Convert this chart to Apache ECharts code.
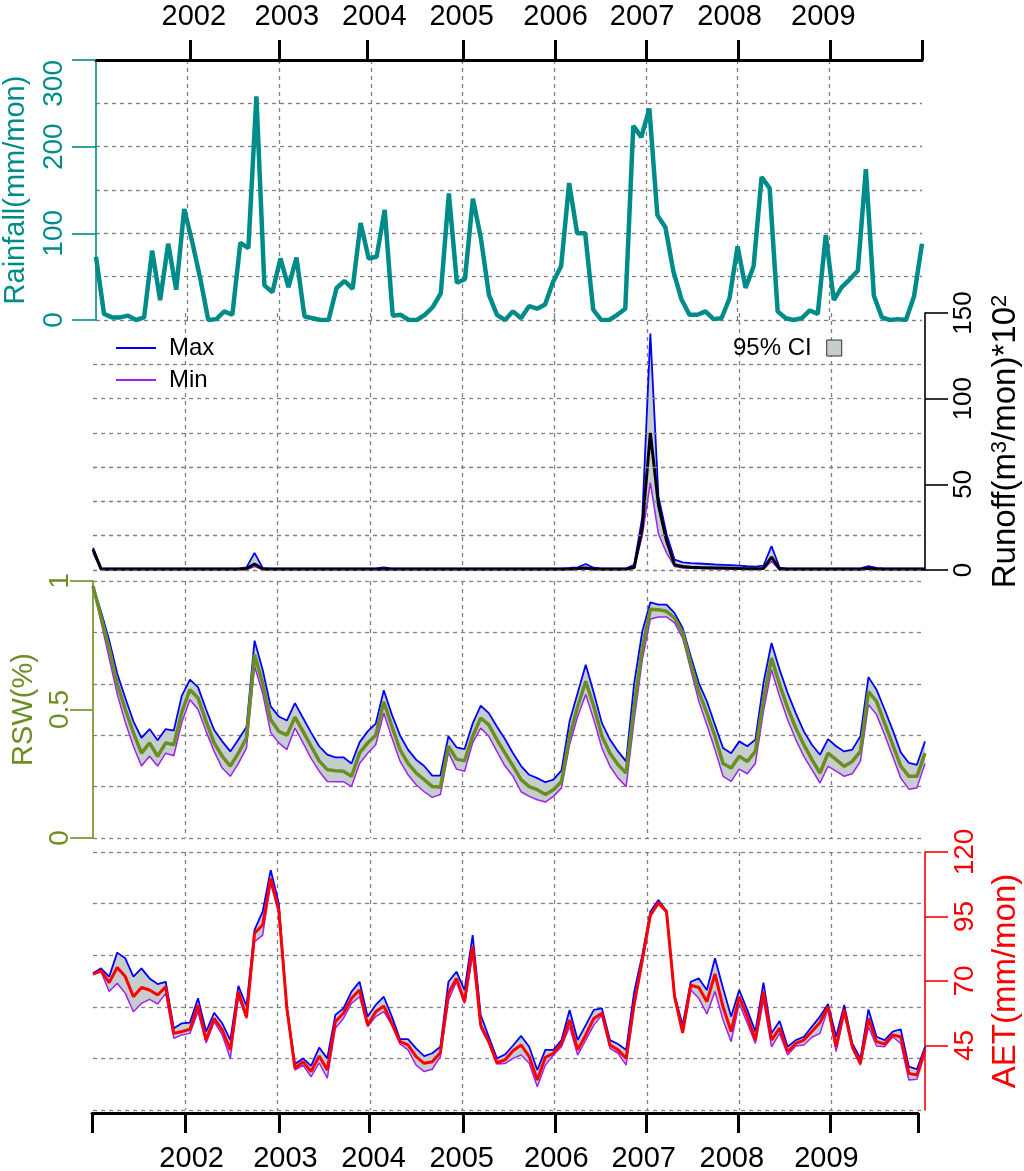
<!DOCTYPE html>
<html><head><meta charset="utf-8">
<script src="https://cdn.jsdelivr.net/npm/echarts@6/dist/echarts.min.js"></script>
<style>html,body{margin:0;padding:0;background:#fff}#c{width:1024px;height:1171px}</style>
</head><body><div id="c"></div>
<script>
// ---- data (monthly index 0..103) ----
const rainfall = [
 73,7,3,3,5,0,3,80,23,88,
 35,128,90,48,0,1,10,6,89,83,
 258,40,32,71,38,72,4,2,0,0,
 37,45,36,112,71,73,127,5,6,0,
 0,6,15,31,146,43,47,140,94,29,
 6,0,10,2,16,13,18,44,62,158,
 100,100,12,0,0,6,13,224,211,244,
 121,107,56,24,6,6,10,1,2,25,
 85,37,62,165,152,10,2,0,2,11,
 7,98,23,38,47,57,174,28,3,0,
 1,0,27,88];
const runoffMax = [
 13,1,1,1,1,1,1,1,1,1,
 1,1,1,1,1,1,1,1,1,1.5,
 10,1.2,1,1,1,1,1,1,1,1,
 1,1,1,1,1,1,1.5,1,1,1,
 1,1,1,1,1,1,1,1,1,1,
 1,1,1,1,1,1,1,1,1,1.2,
 1.5,3.5,1.3,1,1,1,1,3,31,138,
 43,21,6,4.5,4,3.8,3.5,3.2,3,2.8,
 2.5,2.2,2,2.5,14,1.3,1,1,1,1,
 1,1,1,1,1,1,2.2,1.2,1,1,
 1,1,1,1];
const runoffMean = [
 12,0.5,0.5,0.5,0.5,0.5,0.5,0.5,0.5,0.5,
 0.5,0.5,0.5,0.5,0.5,0.5,0.5,0.5,0.5,0.8,
 3.5,0.6,0.5,0.5,0.5,0.5,0.5,0.5,0.5,0.5,
 0.5,0.5,0.5,0.5,0.5,0.5,0.6,0.5,0.5,0.5,
 0.5,0.5,0.5,0.5,0.5,0.5,0.5,0.5,0.5,0.5,
 0.5,0.5,0.5,0.5,0.5,0.5,0.5,0.5,0.5,0.6,
 0.8,1.2,0.6,0.5,0.5,0.5,0.5,1.5,25,80,
 38,17,3,2,1.6,1.4,1.3,1.2,1.1,1,
 0.9,0.8,0.7,0.9,7.5,0.5,0.5,0.5,0.5,0.5,
 0.5,0.5,0.5,0.5,0.5,0.5,1,0.6,0.5,0.5,
 0.5,0.5,0.5,0.5];
const runoffMin = [
 10,0.2,0.2,0.2,0.2,0.2,0.2,0.2,0.2,0.2,
 0.2,0.2,0.2,0.2,0.2,0.2,0.2,0.2,0.2,0.3,
 2,0.2,0.2,0.2,0.2,0.2,0.2,0.2,0.2,0.2,
 0.2,0.2,0.2,0.2,0.2,0.2,0.2,0.2,0.2,0.2,
 0.2,0.2,0.2,0.2,0.2,0.2,0.2,0.2,0.2,0.2,
 0.2,0.2,0.2,0.2,0.2,0.2,0.2,0.2,0.2,0.2,
 0.3,0.6,0.2,0.2,0.2,0.2,0.2,1,20,51,
 21,10,2,1.2,1,0.9,0.8,0.7,0.6,0.5,
 0.4,0.4,0.3,0.5,5,0.2,0.2,0.2,0.2,0.2,
 0.2,0.2,0.2,0.2,0.2,0.2,0.5,0.2,0.2,0.2,
 0.2,0.2,0.2,0.2];
const rswMax = [
 0.98,0.88,0.77,0.64,0.545,0.454,0.39,0.424,0.38,0.424,
 0.418,0.554,0.616,0.587,0.50,0.42,0.376,0.337,0.383,0.432,
 0.768,0.655,0.512,0.473,0.457,0.525,0.467,0.41,0.357,0.324,
 0.314,0.314,0.29,0.372,0.415,0.445,0.575,0.48,0.40,0.344,
 0.305,0.28,0.243,0.243,0.396,0.353,0.346,0.445,0.515,0.486,
 0.434,0.385,0.33,0.28,0.246,0.233,0.217,0.227,0.263,0.454,
 0.564,0.674,0.564,0.447,0.383,0.337,0.298,0.603,0.804,0.917,
 0.908,0.908,0.875,0.817,0.707,0.603,0.532,0.44,0.35,0.33,
 0.376,0.357,0.383,0.603,0.759,0.655,0.564,0.486,0.415,0.363,
 0.324,0.385,0.357,0.337,0.344,0.396,0.626,0.577,0.50,0.42,
 0.333,0.292,0.285,0.376];
const rswMean = [
 0.98,0.86,0.74,0.60,0.50,0.41,0.33,0.37,0.318,0.37,
 0.363,0.49,0.577,0.545,0.454,0.37,0.318,0.28,0.33,0.39,
 0.713,0.603,0.46,0.415,0.40,0.47,0.415,0.357,0.30,0.266,
 0.262,0.26,0.24,0.33,0.37,0.40,0.53,0.435,0.344,0.29,
 0.253,0.227,0.20,0.198,0.357,0.307,0.30,0.396,0.467,0.44,
 0.383,0.33,0.28,0.227,0.20,0.188,0.169,0.188,0.22,0.396,
 0.512,0.61,0.512,0.396,0.33,0.285,0.253,0.512,0.74,0.89,
 0.888,0.882,0.856,0.80,0.68,0.57,0.486,0.396,0.29,0.272,
 0.318,0.298,0.337,0.538,0.70,0.597,0.506,0.428,0.363,0.305,
 0.253,0.33,0.305,0.279,0.298,0.337,0.57,0.532,0.447,0.363,
 0.28,0.24,0.24,0.33];
const rswMin = [
 0.98,0.84,0.70,0.56,0.45,0.357,0.28,0.318,0.28,0.33,
 0.32,0.45,0.538,0.50,0.415,0.337,0.272,0.24,0.29,0.35,
 0.668,0.564,0.41,0.37,0.344,0.428,0.37,0.31,0.26,0.22,
 0.219,0.219,0.20,0.29,0.33,0.363,0.486,0.39,0.30,0.246,
 0.207,0.18,0.158,0.169,0.333,0.268,0.26,0.37,0.428,0.396,
 0.337,0.28,0.24,0.18,0.162,0.149,0.14,0.162,0.195,0.363,
 0.473,0.558,0.46,0.35,0.279,0.233,0.20,0.46,0.694,0.852,
 0.86,0.86,0.837,0.778,0.655,0.532,0.44,0.344,0.24,0.22,
 0.268,0.25,0.29,0.493,0.655,0.551,0.46,0.383,0.318,0.266,
 0.214,0.279,0.26,0.24,0.25,0.298,0.519,0.48,0.402,0.318,
 0.233,0.19,0.195,0.29];
const aetMax = [
 73,74.9,71.7,81,78.8,71.7,74.9,71,68.8,69.7,
 51.7,53.6,53.9,63.3,50.4,57.7,53.6,47.1,68.1,60.3,
 89.8,96.9,113,100.1,60,37.8,40,37.1,44.2,40,
 56.8,59.4,65.9,69.7,56.2,60.7,63.9,56.2,47.5,47.5,
 43.9,40.9,42,44.5,69.7,73.6,66.5,87.8,56.8,48.4,
 40,41.5,45,48.7,44.5,35.5,43.3,43.3,47.1,58.8,
 47.1,52.9,58.8,59.4,47.1,45.6,43.3,65.9,80.1,96.9,
 101.4,97.1,64.6,52.9,69.7,71,66.5,78.8,67.2,56.2,
 66.5,58.8,50.4,69.4,49.7,54.5,44.5,47.1,48.4,52.3,
 56.2,61.1,48.4,60.7,45.8,40,59,48.4,47.1,50.4,
 51.3,36.8,35.8,44.5];
const aetMean = [
 72.8,74,69.4,75.2,71.7,63.9,67.5,66.5,64.6,67.8,
 49.7,50.4,51.3,60.7,47.1,55.5,51,43.3,65.9,55.9,
 88.5,91.7,109.8,97.5,59.4,36.2,38.7,34.9,40.9,35.5,
 54.2,57.5,63.3,66.5,52.9,58.1,60.3,53.6,46.5,45.2,
 40.7,38.1,38.7,42.2,65.2,71,62,83.6,52.9,46.5,
 38.3,39.4,43,45.2,40.7,31.6,40.4,42,45.8,54.9,
 43.3,49.1,55.5,57.5,45.2,43.3,40,61.3,78.1,95.6,
 100.4,96.9,63.9,50,68.4,67.5,62,72.7,60,50.4,
 63.9,56.2,47.1,65.9,47.1,51.7,42.6,45.8,47.1,50.4,
 53.9,60,44.5,58.8,44.5,38.1,55.5,46.5,45.6,49.1,
 48.4,34.2,33.6,43.3];
const aetMin = [
 72.4,73.6,65.9,69.1,65.2,58.1,61.3,62.9,61.1,65.2,
 47.8,49.1,49.7,58.1,46,54.2,49.1,40,63.9,55.5,
 85.2,87.8,107.9,96.2,58.8,35.5,37.4,32.9,38.3,32.3,
 51.7,55.5,61.3,63.9,52.3,56.2,58.1,52.9,45.6,43.3,
 37.4,34.9,35.8,40.7,62.6,69.7,61.3,80,51.7,45.8,
 37.8,38,40,41.3,38.1,29,37.4,41.3,44.5,52.3,
 41.3,47.1,52.9,56.8,43.9,42,37.4,60,76.8,94.9,
 99.8,96.5,63.3,49.7,66.5,63.3,57.2,65.9,54.9,46.5,
 61.3,53.6,45.8,62.6,44.5,49.7,41.3,44.8,45.2,48.2,
 49.7,59.4,42.6,57.5,43.9,37.4,52.3,44.8,44.5,48.4,
 45.8,31.6,31.9,42];

// ---- axis tick / label values (in month-index units) ----
const yearLabels = ['2002','2003','2004','2005','2006','2007','2008','2009'];
const yearLabelPos = [12.2, 23.8, 34.7, 45.6, 57.3, 68.1, 79.0, 90.7];
const yearGrid = [11.42, 22.85, 34.28, 45.7, 57.13, 68.56, 79.99, 91.41];
const topTicks = [11.72, 22.86, 33.83, 45.8, 57.27, 68.67, 80.14, 91.56, 103];
const bottomTicks = [-0.12, 11.38, 23.04, 34.17, 45.79, 57.17, 68.47, 79.84, 91.17, 102.02];
const runoffGrid = [0, 20, 40, 60, 80, 100, 120];

// ---- styling ----
const TEAL = '#008b8b', OLIVE = '#6b8e23', RED = '#ff0000', BLUE = '#0000ff', PURPLE = '#a020f0', BAND = '#c5cecd', GRIDC = '#808080';
const FONT = '"Liberation Sans", Arial, Helvetica, sans-serif';
const gridLine = {show: true, lineStyle: {color: GRIDC, width: 1.3, type: [4, 4]}};

const pairs = a => a.map((v, i) => [i, v]);
const yearFmt = v => {
  let k = 0, best = 1e9;
  yearLabelPos.forEach((p, j) => { const d = Math.abs(p - v); if (d < best) { best = d; k = j; } });
  return yearLabels[k];
};

function hiddenX(gridIndex) {
  return {type: 'value', gridIndex, min: 0, max: 103, position: 'bottom',
    axisLine: {show: false, onZero: false}, axisTick: {show: false, customValues: yearGrid},
    axisLabel: {show: false}, splitLine: gridLine};
}
function hiddenY(gridIndex, min, max, interval, position) {
  return {type: 'value', gridIndex, min, max, interval, position,
    axisLine: {show: false, onZero: false}, axisTick: {show: false},
    axisLabel: {show: false}, splitLine: gridLine};
}
function line(name, data, xi, yi, color, width, z) {
  return {type: 'line', name, data: pairs(data), xAxisIndex: xi, yAxisIndex: yi,
    symbol: 'none', lineStyle: {color, width}, itemStyle: {color}, z: z || 3, silent: true};
}
// confidence band: one polygon between the max and min series, placed via the axes' scales
function band(lo, hi, xi, yi) {
  return {type: 'custom', name: '95% CI', xAxisIndex: xi, yAxisIndex: yi, data: pairs(hi),
    silent: true, clip: true, z: 2, itemStyle: {color: BAND},
    renderItem: (params, api) => {
      if (params.dataIndex !== 0) return null;
      const top = hi.map((v, i) => api.coord([i, v]));
      const bot = lo.map((v, i) => api.coord([i, v])).reverse();
      return {type: 'polygon', shape: {points: top.concat(bot)}, style: {fill: BAND, stroke: null}};
    }};
}

const chart = echarts.init(document.getElementById('c'), null, {renderer: 'canvas'});
const G = (o) => Object.assign({outerBoundsMode: 'none', containLabel: false}, o);
const option = {
  animation: false,
  backgroundColor: '#fff',
  textStyle: {fontFamily: FONT},
  grid: [
    G({left: 96, right: 102, top: 60, height: 260}),
    G({left: 93, right: 99, top: 313, height: 257}),
    G({left: 93, right: 99, top: 581, height: 257}),
    G({left: 93, right: 99, top: 852, height: 258}),
    G({left: 92, right: 106, top: 852, height: 261})
  ],
  xAxis: [
    {type: 'value', gridIndex: 0, position: 'top', min: 0, max: 103,
      axisLine: {onZero: false, lineStyle: {color: '#000', width: 3}},
      axisTick: {show: true, customValues: topTicks, length: 20, lineStyle: {color: '#000', width: 3}},
      axisLabel: {customValues: yearLabelPos, formatter: yearFmt, fontSize: 29, color: '#000', margin: 29},
      splitLine: {show: false}},
    hiddenX(0), hiddenX(1), hiddenX(2), hiddenX(3),
    {type: 'value', gridIndex: 4, position: 'bottom', min: -0.12, max: 102.02,
      axisLine: {onZero: false, lineStyle: {color: '#000', width: 3}},
      axisTick: {show: true, customValues: bottomTicks, length: 20, lineStyle: {color: '#000', width: 3}},
      axisLabel: {customValues: yearLabelPos, formatter: yearFmt, fontSize: 29, color: '#000', margin: 31},
      splitLine: {show: false}}
  ],
  yAxis: [
    {type: 'value', gridIndex: 0, position: 'left', min: 0, max: 300, interval: 100,
      name: 'Rainfall(mm/mon)', nameLocation: 'middle', nameGap: 66,
      nameTextStyle: {color: TEAL, fontSize: 29},
      axisLine: {show: true, onZero: false, lineStyle: {color: TEAL, width: 1.6}},
      axisTick: {show: true, length: 24, lineStyle: {color: TEAL, width: 1.6}},
      axisLabel: {rotate: 90, color: TEAL, fontSize: 28, margin: 28, alignMaxLabel: 'right'},
      splitLine: {show: false}},
    hiddenY(0, 0, 300, 50, 'left'),
    {type: 'value', gridIndex: 1, position: 'right', min: 0, max: 150, interval: 50,
      name: '{a|Runoff(m}{s|3}{a|/mon)*10}{s|2}', nameLocation: 'middle', nameGap: 64,
      nameTextStyle: {rich: {a: {fontSize: 33, color: '#000', fontFamily: FONT},
                             s: {fontSize: 22, color: '#000', verticalAlign: 'top', fontFamily: FONT}}},
      axisLine: {show: true, onZero: false, lineStyle: {color: '#000', width: 1.6}},
      axisTick: {show: true, length: 23, lineStyle: {color: '#000', width: 1.6}},
      axisLabel: {rotate: 90, color: '#000', fontSize: 26, margin: 26},
      splitLine: {show: false}},
    {type: 'value', gridIndex: 2, position: 'left', min: 0, max: 1, interval: 0.5,
      name: 'RSW(%)', nameLocation: 'middle', nameGap: 54,
      nameTextStyle: {color: OLIVE, fontSize: 29},
      axisLine: {show: true, onZero: false, lineStyle: {color: OLIVE, width: 1.6}},
      axisTick: {show: true, length: 23, lineStyle: {color: OLIVE, width: 1.6}},
      axisLabel: {rotate: 90, color: OLIVE, fontSize: 28, margin: 19},
      splitLine: {show: false}},
    hiddenY(2, 0, 1, 0.2, 'left'),
    {type: 'value', gridIndex: 3, position: 'right', min: 20, max: 120, interval: 25,
      name: 'AET(mm/mon)', nameLocation: 'middle', nameGap: 64,
      nameTextStyle: {color: RED, fontSize: 33},
      axisLine: {show: true, onZero: false, lineStyle: {color: RED, width: 1.6}},
      axisTick: {show: true, length: 23, lineStyle: {color: RED, width: 1.6}},
      axisLabel: {rotate: 90, color: RED, fontSize: 28, margin: 26, showMinLabel: false},
      splitLine: {show: false}},
    hiddenY(3, 20, 120, 20, 'left'),
    {type: 'value', gridIndex: 4, min: 0, max: 1, show: false}
  ],
  legend: [
    {left: 111, top: 331, orient: 'vertical', itemWidth: 40, itemHeight: 2, itemGap: 8,
      icon: 'rect', selectedMode: false,
      textStyle: {fontSize: 24, color: '#000', padding: [0, 0, 0, 8], fontFamily: FONT},
      data: [{name: 'Max', itemStyle: {color: BLUE}}, {name: 'Min', itemStyle: {color: PURPLE}}]},
    {left: 728, top: 331, align: 'right', itemWidth: 15, itemHeight: 16, selectedMode: false,
      textStyle: {fontSize: 24, color: '#000', padding: [0, 10, 0, 0], fontFamily: FONT},
      data: [{name: '95% CI', icon: 'rect', itemStyle: {color: BAND, borderColor: '#333', borderWidth: 1}}]}
  ],
  series: [
    // rainfall
    line('Rainfall', rainfall, 0, 0, TEAL, 4.5),
    // runoff
    {type: 'line', name: 'runoffGrid', data: [], xAxisIndex: 2, yAxisIndex: 2, silent: true, z: 1,
      markLine: {silent: true, symbol: ['none', 'none'], label: {show: false},
        lineStyle: {color: GRIDC, width: 1.3, type: [4, 4]},
        data: runoffGrid.map(v => ({yAxis: v}))}},
    band(runoffMin, runoffMax, 2, 2),
    line('Min', runoffMin, 2, 2, PURPLE, 1.5),
    line('Max', runoffMax, 2, 2, BLUE, 1.8),
    line('Runoff', runoffMean, 2, 2, '#000', 3),
    // RSW
    band(rswMin, rswMax, 3, 3),
    line('Min', rswMin, 3, 3, PURPLE, 1.5),
    line('Max', rswMax, 3, 3, BLUE, 1.8),
    line('RSW', rswMean, 3, 3, OLIVE, 3.5),
    // AET
    band(aetMin, aetMax, 4, 5),
    line('Min', aetMin, 4, 5, PURPLE, 1.5),
    line('Max', aetMax, 4, 5, BLUE, 1.8),
    line('AET', aetMean, 4, 5, RED, 3)
  ]
};
chart.setOption(option);
</script>
</body></html>
